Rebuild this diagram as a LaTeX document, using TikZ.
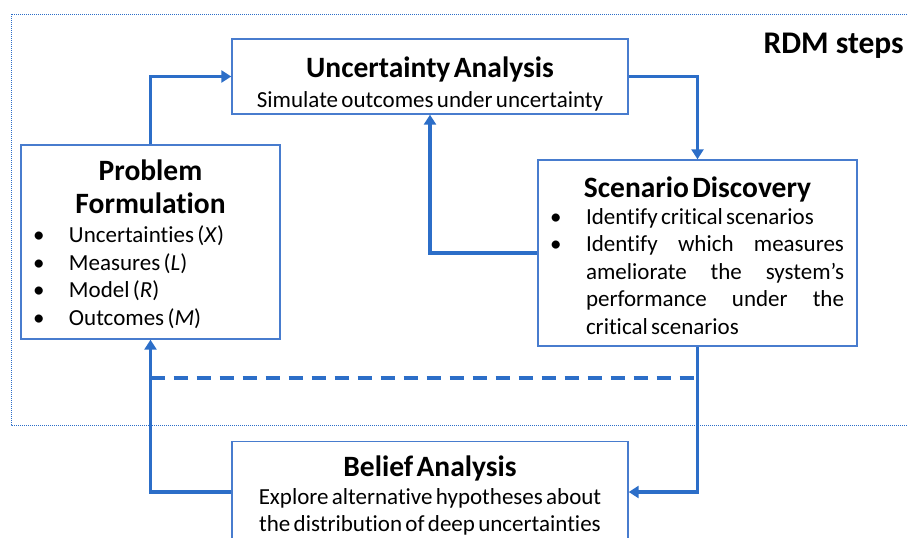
\documentclass[tikz,border=0pt]{standalone}
\usepackage{fontspec}
\setmainfont{Carlito}[Ligatures=NoCommon]
\usetikzlibrary{arrows.meta,positioning}

\definecolor{rdmblue}{RGB}{44,110,200}
\definecolor{boxblue}{RGB}{72,124,206}

\newcommand{\ttl}{\fontsize{29.5}{33}\selectfont\bfseries}
\newcommand{\txt}{\fontsize{23}{27.5}\selectfont}
\newcommand{\itm}[1]{\makebox[36pt][l]{\textbullet}#1}
\newcommand{\jst}[3]{\hbox to 258pt{#1\hfill #2\hfill #3}}

\begin{document}
\begin{tikzpicture}[x=1pt,y=-1pt,>={Triangle[length=10pt,width=12pt]},
    box/.style={draw=boxblue,line width=1.4pt,fill=white,inner ysep=0pt,inner xsep=12pt},
    flow/.style={->,draw=rdmblue,line width=3.6pt},
    frame/.style={draw=rdmblue,line width=1pt,dash pattern=on 1pt off 1pt}]

    \clip (0,0) rectangle (908,538);

    % RDM frame
    \draw[frame] (11,14) rectangle (930,425);
    \node[anchor=east,inner sep=0pt] (rdm) at (904,46) {\fontsize{31.5}{33}\selectfont\bfseries RDM steps};

    % steps
    \node[box,minimum width=396pt,minimum height=75pt,text width=372pt] (ua) at (430,76.5)
        {\vskip 2.5pt\centering{\ttl Uncertainty Analysis\par}\vskip 2pt
         {\txt Simulate outcomes under uncertainty\par}\vskip -4pt};

    \node[box,minimum width=259pt,minimum height=194pt,text width=235pt] (pf) at (150.5,242)
        {\vskip -8pt\centering{\ttl Problem\\ Formulation\par}\vskip 2pt
         \raggedright\txt
         \itm{Uncertainties (\textit{X})}\\
         \itm{Measures (\textit{L})}\\
         \itm{Model (\textit{R})}\\
         \itm{Outcomes (\textit{M})}\par};

    \node[box,minimum width=319pt,minimum height=186pt,text width=295pt] (sd) at (697.5,253)
        {\vskip -7pt\centering{\ttl Scenario Discovery\par}\vskip -1pt
         \raggedright\txt
         \itm{Identify critical scenarios}\\
         \itm{\jst{Identify}{which}{measures}}\\
         \hspace*{36pt}\jst{ameliorate}{the}{system’s}\\
         \hspace*{36pt}\jst{performance}{under}{the}\\
         \hspace*{36pt}critical scenarios\par};

    \node[box,minimum width=396pt,minimum height=110pt,text width=372pt,anchor=north] (ba) at (430,441)
        {\vskip -15pt\centering{\ttl Belief Analysis\par}\vskip 2pt
         {\fontsize{23}{26.2}\selectfont Explore alternative hypotheses about\\
          the distribution of deep uncertainties\par}\vskip 20pt};

    \coordinate (dash) at (0,378);
    \coordinate (bain) at (0,492);

    % cycle
    \draw[flow] (pf.north) |- (ua.west);
    \draw[flow] (ua.east) -| (sd.north);
    \draw[flow] (sd.west) -| (ua.south);
    \draw[flow] (sd.south) |- (ba.east |- bain);
    \draw[flow] (ba.west |- bain) -| (pf.south);
    \draw[draw=rdmblue,line width=3.6pt,dash pattern=on 14pt off 9pt]
        (pf.south |- dash) -- (sd.south |- dash);
\end{tikzpicture}
\end{document}
